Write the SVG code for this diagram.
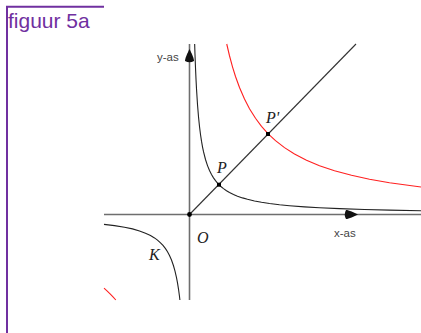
<svg xmlns="http://www.w3.org/2000/svg" width="421" height="333" viewBox="0 0 421 333">
<style>
.frame{fill:none;stroke:#7030A0;stroke-width:2}
.title{font-family:"Liberation Sans",Arial,sans-serif;font-size:21px;fill:#7030A0}
.axis{fill:none;stroke:#6e6e6e;stroke-width:1.6}
.diag{fill:none;stroke:#333;stroke-width:1.1}
.k{fill:none;stroke:#222;stroke-width:1.1}
.kp{fill:none;stroke:#ff2020;stroke-width:1.1}
.axlab{font-family:"Liberation Sans",Arial,sans-serif;font-size:11.5px;fill:#444}
.pt{font-family:"Liberation Serif","Times New Roman",serif;font-style:italic;font-size:16px;fill:#222}
.dot{fill:#000}
</style>
<defs>
<path id="arrowhead" d="M0,0 C2,4 4.5,9 4.5,12 Q0,14.5 -4.5,12 C-4.5,9 -2,4 0,0 Z" fill="#111"/>
</defs>
<rect width="421" height="333" fill="#fff"/>
<g id="frame">
<path class="frame" d="M104,6.8 H7 V333"/>
<text class="title" x="8" y="28">figuur 5a</text>
</g>
<g id="axes">
<path class="axis" d="M189.5,300 V44"/>
<path class="axis" d="M104,214.5 H421"/>
<use href="#arrowhead" transform="translate(189.5,49)"/>
<use href="#arrowhead" transform="translate(358,214.5) rotate(90)"/>
<text class="axlab" x="157" y="60.5">y-as</text>
<text class="axlab" x="334" y="236.5">x-as</text>
</g>
<g id="connectors">
<path id="line-OP" class="diag" d="M189.5,214.5 L356,44"/>
</g>
<g id="curve-K">
<polyline class="k" points="194.66,44 195,54.5 195.5,67.83 196,79.12 196.5,88.79 197.5,104.5 198.5,116.72 199.5,126.5 200.5,134.5 201.5,141.17 202.5,146.81 203.5,151.64 205.5,159.5 207.5,165.61 209.5,170.5 211.5,174.5 213.5,177.83 215.5,180.65 217.5,183.07 219.16,184.84 221.5,187 223.5,188.62 226.5,190.72 229.5,192.5 233.5,194.5 237.5,196.17 242.5,197.9 247.5,199.33 254.5,200.96 261.5,202.28 269.5,203.5 279.5,204.72 289.5,205.7 304.5,206.85 319.5,207.73 339.5,208.63 364.5,209.47 389.5,210.1 421,210.7"/>
<polyline class="k" points="104,224.4 114.5,225.6 124.5,227.2 132.5,228.9 139.5,230.9 145.5,233.14 150.5,235.53 154.5,237.93 157.5,240.13 160.5,242.78 163,245.44 165.5,248.67 167.5,251.77 169.5,255.5 171.5,260.06 173.5,265.75 175,271.05 176.5,277.58 177.5,282.83 178.5,289.05 179.5,296.5 179.9,300"/>
<text class="pt" x="149" y="260" font-size="15">K</text>
</g>
<g id="curve-Kprime">
<polyline class="kp" points="226.74,44 229.5,55.75 232.5,66.83 235.5,76.46 239.5,87.5 244.5,99.05 249.5,108.67 255.5,118.29 261.5,126.31 268.2,133.81 275.5,140.66 284.5,147.66 294.5,154.02 306.5,160.23 319.5,165.65 334.5,170.71 351.5,175.3 369.5,179.22 389.5,182.75 421,187.07"/>
<polyline class="kp" points="104,288.18 107,290.86 110.1,293.85 113,296.85 115.82,300"/>
</g>
<g id="point-O">
<circle class="dot" cx="189.5" cy="214.5" r="2.4"/>
<text class="pt" x="197" y="243">O</text>
</g>
<g id="point-P">
<rect class="dot" x="217" y="182.7" width="4" height="4"/>
<text class="pt" x="217" y="172.5">P</text>
</g>
<g id="point-Pprime">
<rect class="dot" x="266" y="132" width="4" height="4"/>
<text class="pt" x="266" y="123">P'</text>
</g>
</svg>
